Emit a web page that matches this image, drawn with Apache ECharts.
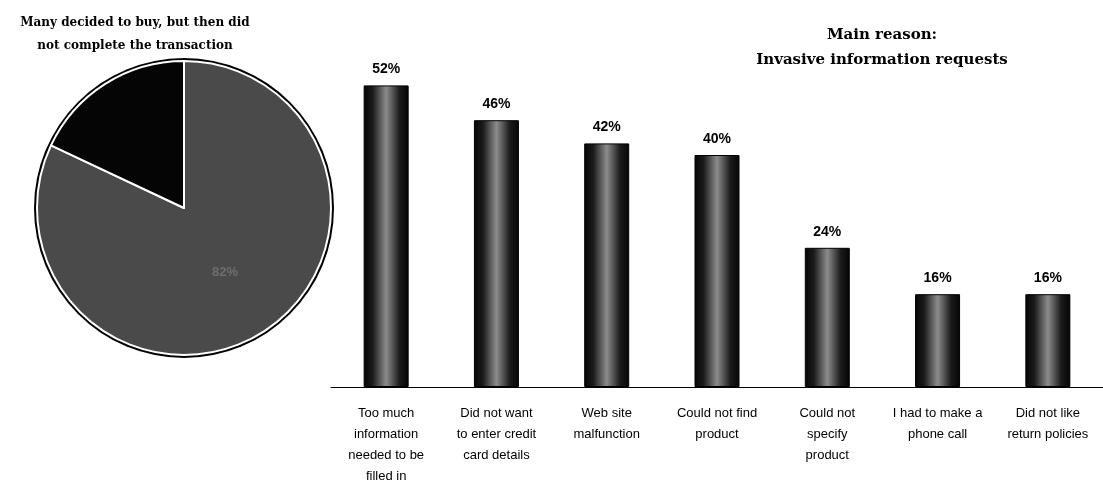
<!DOCTYPE html>
<html>
<head>
<meta charset="utf-8">
<script src="https://cdn.jsdelivr.net/npm/echarts@6/dist/echarts.min.js"></script>
<style>
  html, body { margin: 0; padding: 0; background: #fff; }
  #chart { width: 1103px; height: 484px; }
</style>
</head>
<body>
<div id="chart"></div>
<script>
// pie: share of people who decided to buy
const pieNames = ['Did not complete', 'Other'];
const pieValues = [82, 18];

// bars: reasons for not completing
const reasons = [
  'Too much\ninformation\nneeded to be\nfilled in',
  'Did not want\nto enter credit\ncard details',
  'Web site\nmalfunction',
  'Could not find\nproduct',
  'Could not\nspecify\nproduct',
  'I had to make a\nphone call',
  'Did not like\nreturn policies'
];
const reasonValues = [52, 46, 42, 40, 24, 16, 16];

const chart = echarts.init(document.getElementById('chart'));

const barFill = new echarts.graphic.LinearGradient(0, 0, 1, 0, [
  { offset: 0, color: '#050505' },
  { offset: 0.2, color: '#1a1a1a' },
  { offset: 0.5, color: '#8c8c8c' },
  { offset: 0.8, color: '#1a1a1a' },
  { offset: 1, color: '#050505' }
]);

const option = {
  animation: false,
  title: [
    {
      text: 'Many decided to buy, but then did\nnot complete the transaction',
      left: 130,
      top: 6,
      textAlign: 'center',
      textStyle: {
        fontFamily: 'DejaVu Serif',
        fontWeight: 'bold',
        fontSize: 12,
        lineHeight: 23,
        color: '#000'
      }
    },
    {
      text: 'Main reason:\nInvasive information requests',
      left: 877,
      top: 18,
      textAlign: 'center',
      textStyle: {
        fontFamily: 'DejaVu Serif',
        fontWeight: 'bold',
        fontSize: 15,
        lineHeight: 25,
        color: '#000'
      }
    }
  ],
  grid: { left: 331, right: 0, top: 39, bottom: 97, outerBoundsMode: 'none', containLabel: false },
  xAxis: {
    type: 'category',
    data: reasons,
    axisLine: { lineStyle: { color: '#000', width: 1 } },
    axisTick: { show: false },
    axisLabel: {
      interval: 0,
      margin: 16,
      fontFamily: 'Liberation Sans',
      fontSize: 13,
      lineHeight: 21,
      color: '#000'
    }
  },
  yAxis: {
    type: 'value',
    min: 0,
    max: 60,
    show: false,
    splitLine: { show: false }
  },
  series: [
    {
      type: 'pie',
      center: [184, 208],
      radius: 150,
      silent: true,
      z: 1,
      label: { show: false },
      itemStyle: { color: '#000' },
      data: [1]
    },
    {
      type: 'pie',
      center: [184, 208],
      radius: 147,
      startAngle: 90,
      clockwise: true,
      z: 2,
      itemStyle: { borderColor: '#fff', borderWidth: 2 },
      label: {
        show: true,
        position: 'inside',
        formatter: (p) => p.dataIndex === 0 ? p.value + '%' : '',
        color: '#6e6e6e',
        fontFamily: 'Liberation Sans',
        fontWeight: 'bold',
        fontSize: 13
      },
      labelLine: { show: false },
      data: pieNames.map((n, i) => ({
        name: n,
        value: pieValues[i],
        itemStyle: { color: i === 0 ? '#4a4a4a' : '#050505' }
      }))
    },
    {
      type: 'bar',
      barWidth: 45,
      data: reasonValues,
      itemStyle: {
        color: barFill,
        borderColor: '#000',
        borderWidth: 1
      },
      label: {
        show: true,
        position: 'top',
        distance: 9,
        formatter: '{c}%',
        fontFamily: 'Liberation Sans',
        fontWeight: 'bold',
        fontSize: 14,
        color: '#000'
      }
    }
  ]
};

chart.setOption(option);
</script>
</body>
</html>
